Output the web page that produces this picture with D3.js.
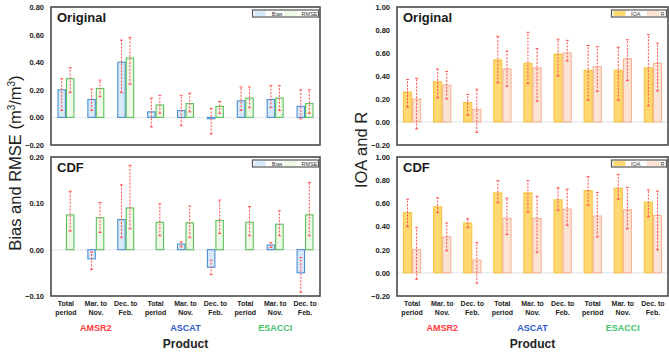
<!DOCTYPE html>
<html>
<head>
<meta charset="utf-8">
<script src="https://cdn.jsdelivr.net/npm/d3@7"></script>
<style>
  body { margin: 0; background: #fff; }
  svg { display: block; font-family: "Liberation Sans", Arial, sans-serif; }
</style>
</head>
<body>
<svg id="chart" width="669" height="352"></svg>
<script>
// categories
let products = ["AMSR2", "ASCAT", "ESACCI"];
let productColors = ["#ff3b3b", "#2a5bc8", "#45c46a"];
let seasons = [["Total", "period"], ["Mar. to", "Nov."], ["Dec. to", "Feb."]];

// Original: Bias / RMSE (m3/m3), error bars as [low, high]
let origBias = [0.20, 0.13, 0.40, 0.04, 0.05, -0.01, 0.12, 0.13, 0.08];
let origBiasErr = [[0.05, 0.28], [0.05, 0.205], [0.18, 0.56], [-0.07, 0.14], [-0.06, 0.16], [-0.12, 0.065], [0.05, 0.22], [0.07, 0.23], [-0.01, 0.20]];
let origRmse = [0.28, 0.21, 0.43, 0.09, 0.10, 0.08, 0.14, 0.14, 0.10];
let origRmseErr = [[0.18, 0.36], [0.15, 0.27], [0.24, 0.58], [0.03, 0.16], [0.04, 0.175], [0.03, 0.115], [0.07, 0.22], [0.05, 0.23], [0.03, 0.20]];

// CDF: Bias / RMSE
let cdfBias = [0, -0.02, 0.065, 0, 0.012, -0.038, 0, 0.01, -0.05];
let cdfBiasErr = [null, [-0.043, -0.005], [0.026, 0.14], null, [0.006, 0.017], [-0.054, -0.023], null, [0.005, 0.015], [-0.092, -0.017]];
let cdfRmse = [0.075, 0.069, 0.09, 0.059, 0.058, 0.063, 0.059, 0.055, 0.075];
let cdfRmseErr = [[0.04, 0.126], [0.037, 0.102], [0.045, 0.182], [0.03, 0.099], [0.026, 0.094], [0.035, 0.107], [0.03, 0.093], [0.03, 0.084], [0.03, 0.145]];

// Original: IOA / R
let origIoa = [0.26, 0.35, 0.17, 0.54, 0.51, 0.59, 0.45, 0.45, 0.47];
let origIoaErr = [[0.13, 0.37], [0.21, 0.46], [0.06, 0.24], [0.34, 0.745], [0.335, 0.78], [0.40, 0.72], [0.19, 0.665], [0.19, 0.65], [0.14, 0.76]];
let origR = [0.20, 0.32, 0.11, 0.46, 0.47, 0.60, 0.48, 0.55, 0.51];
let origRErr = [[-0.06, 0.38], [0.20, 0.44], [-0.09, 0.285], [0.31, 0.615], [0.18, 0.64], [0.53, 0.71], [0.265, 0.655], [0.36, 0.715], [0.27, 0.685]];

// CDF: IOA / R
let cdfIoa = [0.52, 0.57, 0.43, 0.69, 0.69, 0.63, 0.71, 0.73, 0.61];
let cdfIoaErr = [[0.40, 0.636], [0.52, 0.647], [0.39, 0.466], [0.606, 0.796], [0.525, 0.796], [0.54, 0.735], [0.583, 0.83], [0.635, 0.85], [0.484, 0.717]];
let cdfR = [0.20, 0.31, 0.11, 0.47, 0.47, 0.55, 0.49, 0.545, 0.495];
let cdfRErr = [[-0.055, 0.39], [0.19, 0.43], [-0.09, 0.26], [0.33, 0.644], [0.175, 0.66], [0.41, 0.723], [0.31, 0.694], [0.38, 0.738], [0.198, 0.705]];

let biasTicks = [-0.2, 0, 0.2, 0.4, 0.6, 0.8];
let cdfBiasTicks = [-0.1, 0, 0.1, 0.2];
let ioaTicks = [-0.2, 0, 0.2, 0.4, 0.6, 0.8, 1.0];

let categories = d3.range(9);

let viz = d3.select("#chart");

let leftX = [51, 320];
let rightX = [397, 668];
let topY = [7, 145];
let botY = [157, 296];

let blueS = {fill: "#d7e9f8", stroke: "#4f8fd0"};
let greenS = {fill: "#eef8e6", stroke: "#5cc05c"};
let ioaS = {fill: "#ffd872", stroke: "#f6c445"};
let rS = {fill: "#fde3d4", stroke: "#f3b497"};

function panel(opts){
  let g = viz.append("g");
  let x = d3.scaleBand().domain(categories).range(opts.xr).paddingInner(0).paddingOuter(0);
  let y = d3.scaleLinear().domain(opts.domain).range([opts.yr[1], opts.yr[0]]);

  // zero line
  g.append("line")
    .attr("x1", opts.xr[0]).attr("x2", opts.xr[1])
    .attr("y1", y(0)).attr("y2", y(0))
    .attr("stroke", "#e8eef4").attr("stroke-width", 1.5);

  let bw = x.bandwidth() * opts.barFrac;
  let series = [
    {vals: opts.a, err: opts.aErr, st: opts.aStyle, off: -bw - 0.5},
    {vals: opts.b, err: opts.bErr, st: opts.bStyle, off: 0.5}
  ];
  series.forEach(function(s){
    let bars = g.selectAll(null).data(categories).enter();
    bars.append("rect")
      .attr("x", function(d){ return x(d) + x.bandwidth()/2 + s.off; })
      .attr("y", function(d){ return y(Math.max(0, s.vals[d])); })
      .attr("width", bw)
      .attr("height", function(d){ return Math.abs(y(s.vals[d]) - y(0)); })
      .attr("fill", s.st.fill)
      .attr("stroke", s.st.stroke)
      .attr("stroke-width", 1.1);
  });
  series.forEach(function(s){
    let eb = categories.filter(function(d){ return s.err[d]; });
    let grp = g.selectAll(null).data(eb).enter().append("g")
      .attr("transform", function(d){ return "translate(" + (x(d) + x.bandwidth()/2 + s.off + bw/2) + ",0)"; });
    grp.append("line")
      .attr("y1", function(d){ return y(s.err[d][0]); })
      .attr("y2", function(d){ return y(s.err[d][1]); })
      .attr("stroke", "#ff5050").attr("stroke-width", 1)
      .attr("stroke-dasharray", "2,1.4");
    [0, 1].forEach(function(k){
      grp.append("line")
        .attr("x1", -1.5).attr("x2", 1.5)
        .attr("y1", function(d){ return y(s.err[d][k]); })
        .attr("y2", function(d){ return y(s.err[d][k]); })
        .attr("stroke", "#ff5050").attr("stroke-width", 1);
    });
  });

  // frame
  g.append("rect")
    .attr("x", opts.xr[0]).attr("y", opts.yr[0])
    .attr("width", opts.xr[1] - opts.xr[0]).attr("height", opts.yr[1] - opts.yr[0])
    .attr("fill", "none").attr("stroke", "#4a4a4a").attr("stroke-width", 1.6);

  // y axis
  let yAxis = d3.axisLeft(y).tickValues(opts.ticks).tickSize(0).tickPadding(7).tickFormat(d3.format(".2f"));
  let ag = g.append("g").attr("transform", "translate(" + opts.xr[0] + ",0)").call(yAxis);
  ag.select(".domain").remove();
  ag.selectAll("text").attr("font-size", "7.5px").attr("font-weight", "bold").attr("fill", "#222")
    .attr("font-family", "'Liberation Sans', Arial, sans-serif");

  // panel label
  g.append("text").attr("x", opts.xr[0] + 6).attr("y", opts.yr[0] + 15)
    .attr("font-size", "13px").attr("font-weight", "bold").attr("fill", "#1a1a1a")
    .text(opts.label);

  // legend
  let lx = opts.xr[1] - opts.legendW - 1.5;
  let ly = opts.yr[0] + 3;
  let lg = g.append("g").attr("transform", "translate(" + lx + "," + ly + ")");
  lg.append("rect").attr("width", opts.legendW).attr("height", 7)
    .attr("fill", "#fff").attr("stroke", "#555").attr("stroke-width", 1.2);
  opts.legend.forEach(function(it){
    let ox = it.x;
    lg.append("rect").attr("x", ox).attr("y", 1).attr("width", it.sw).attr("height", 5)
      .attr("fill", it.st.fill);
    lg.append("text").attr("x", ox + it.sw + it.tw).attr("y", 5.6)
      .attr("text-anchor", "end")
      .attr("font-size", "5.5px").attr("fill", "#333").text(it.name);
  });
  return x;
}

// left column
panel({xr: leftX, yr: topY, domain: [-0.2, 0.8], ticks: biasTicks, label: "Original",
  a: origBias, aErr: origBiasErr, aStyle: blueS, b: origRmse, bErr: origRmseErr, bStyle: greenS,
  barFrac: 0.25, legendW: 66,
  legend: [{name: "Bias", st: blueS, x: 2, sw: 11, tw: 17}, {name: "RMSE", st: greenS, x: 32, sw: 12, tw: 21}]});
let xl = panel({xr: leftX, yr: botY, domain: [-0.1, 0.2], ticks: cdfBiasTicks, label: "CDF",
  a: cdfBias, aErr: cdfBiasErr, aStyle: blueS, b: cdfRmse, bErr: cdfRmseErr, bStyle: greenS,
  barFrac: 0.25, legendW: 66,
  legend: [{name: "Bias", st: blueS, x: 2, sw: 11, tw: 17}, {name: "RMSE", st: greenS, x: 32, sw: 12, tw: 21}]});

// right column
panel({xr: rightX, yr: topY, domain: [-0.2, 1.0], ticks: ioaTicks, label: "Original",
  a: origIoa, aErr: origIoaErr, aStyle: ioaS, b: origR, bErr: origRErr, bStyle: rS,
  barFrac: 0.27, legendW: 55,
  legend: [{name: "IOA", st: ioaS, x: 2, sw: 12, tw: 15}, {name: "R", st: rS, x: 35, sw: 13, tw: 5}]});
let xr = panel({xr: rightX, yr: botY, domain: [-0.2, 1.0], ticks: ioaTicks, label: "CDF",
  a: cdfIoa, aErr: cdfIoaErr, aStyle: ioaS, b: cdfR, bErr: cdfRErr, bStyle: rS,
  barFrac: 0.27, legendW: 55,
  legend: [{name: "IOA", st: ioaS, x: 2, sw: 12, tw: 15}, {name: "R", st: rS, x: 35, sw: 13, tw: 5}]});

// x category labels, product labels and axis titles
[xl, xr].forEach(function(x){
  let g = viz.append("g");
  categories.forEach(function(d){
    let s = seasons[d % 3];
    let cx = x(d) + x.bandwidth()/2;
    s.forEach(function(line, k){
      g.append("text").attr("x", cx).attr("y", 306 + k * 8.5)
        .attr("text-anchor", "middle").attr("font-size", "7px").attr("font-weight", "bold")
        .attr("fill", "#222").text(line);
    });
  });
  products.forEach(function(p, i){
    let cx = x(i * 3 + 1) + x.bandwidth()/2;
    g.append("text").attr("x", cx).attr("y", 331)
      .attr("text-anchor", "middle").attr("font-size", "9px").attr("font-weight", "bold")
      .attr("fill", productColors[i]).text(p);
  });
  let mid = (x.range()[0] + x.range()[1]) / 2;
  g.append("text").attr("x", mid).attr("y", 348)
    .attr("text-anchor", "middle").attr("font-size", "12px").attr("font-weight", "bold")
    .attr("fill", "#222").text("Product");
});

let t1 = viz.append("text")
  .attr("transform", "translate(21,163) rotate(-90)")
  .attr("text-anchor", "middle").attr("font-size", "16.5px").attr("fill", "#222");
t1.append("tspan").text("Bias and RMSE (m");
t1.append("tspan").attr("font-size", "10px").attr("dy", -6).text("3");
t1.append("tspan").attr("dy", 6).text("/m");
t1.append("tspan").attr("font-size", "10px").attr("dy", -6).text("3");
t1.append("tspan").attr("dy", 6).text(")");

viz.append("text")
  .attr("transform", "translate(367,150) rotate(-90)")
  .attr("text-anchor", "middle").attr("font-size", "16.5px").attr("fill", "#222")
  .text("IOA and R");
</script>
</body>
</html>
